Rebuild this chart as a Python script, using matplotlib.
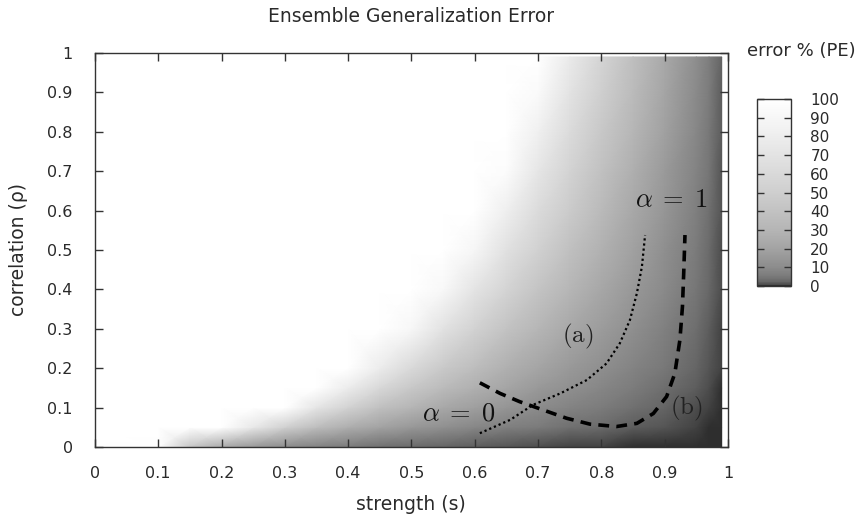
import numpy as np
import matplotlib
matplotlib.use('Agg')
import matplotlib.pyplot as plt
from matplotlib.colors import LinearSegmentedColormap

plt.rcParams['font.family'] = ['DejaVu Sans']
plt.rcParams['mathtext.fontset'] = 'cm'

# error %, one list per strength column,
# values going up the correlation rows below (capped at 100 = white)
strength = [0.0, 0.1, 0.15, 0.2, 0.25, 0.3, 0.35, 0.4, 0.45, 0.5,
            0.55, 0.6, 0.65, 0.7, 0.75, 0.8, 0.85, 0.9, 0.95, 0.97, 0.99]
correlation = [0.0, 0.05, 0.1, 0.15, 0.2, 0.3, 0.4, 0.5, 0.6, 0.7, 0.8, 0.9, 0.99]
error_pct = [
    [100, 100, 100, 100, 100, 100, 100, 100, 100, 100, 100, 100, 100],
    [99, 100, 100, 100, 100, 100, 100, 100, 100, 100, 100, 100, 100],
    [43, 100, 100, 100, 100, 100, 100, 100, 100, 100, 100, 100, 100],
    [24, 100, 100, 100, 100, 100, 100, 100, 100, 100, 100, 100, 100],
    [15, 75, 100, 100, 100, 100, 100, 100, 100, 100, 100, 100, 100],
    [10, 51, 100, 100, 100, 100, 100, 100, 100, 100, 100, 100, 100],
    [7.2, 36, 72, 100, 100, 100, 100, 100, 100, 100, 100, 100, 100],
    [5.3, 26, 53, 79, 100, 100, 100, 100, 100, 100, 100, 100, 100],
    [3.9, 20, 39, 59, 79, 100, 100, 100, 100, 100, 100, 100, 100],
    [3.0, 15, 30, 45, 60, 90, 100, 100, 100, 100, 100, 100, 100],
    [2.3, 12, 23, 35, 46, 69, 92, 100, 100, 100, 100, 100, 100],
    [1.8, 8.9, 18, 27, 36, 53, 71, 89, 100, 100, 100, 100, 100],
    [1.4, 6.8, 14, 21, 27, 41, 55, 68, 82, 96, 100, 100, 100],
    [1.0, 5.2, 10, 16, 21, 31, 42, 52, 62, 73, 83, 94, 100],
    [0.78, 3.9, 7.8, 12, 16, 23, 31, 39, 47, 54, 62, 70, 77],
    [0.56, 2.8, 5.6, 8.4, 11.3, 16.9, 22.5, 28.1, 33.8, 39.4, 45.0, 50.6, 55.7],
    [0.38, 1.9, 3.8, 5.8, 7.7, 11.5, 15.4, 19.2, 23.0, 26.9, 30.7, 34.6, 38.0],
    [0.23, 1.2, 2.3, 3.5, 4.7, 7.0, 9.4, 11.7, 14.1, 16.4, 18.8, 21.1, 23.2],
    [0.11, 0.54, 1.1, 1.6, 2.2, 3.2, 4.3, 5.4, 6.5, 7.6, 8.6, 9.7, 10.7],
    [0.06, 0.3, 0.6, 0.9, 1.3, 1.9, 2.5, 3.1, 3.8, 4.4, 5.0, 5.7, 6.2],
    [0.02, 0.1, 0.2, 0.3, 0.4, 0.6, 0.8, 1.0, 1.2, 1.4, 1.6, 1.8, 2.0],
]

# curve (a), dotted
curve_a_s = [0.608, 0.656, 0.692, 0.735, 0.777, 0.808, 0.829, 0.845, 0.856, 0.864, 0.869]
curve_a_rho = [0.035, 0.069, 0.107, 0.136, 0.170, 0.212, 0.263, 0.322, 0.390, 0.458, 0.538]
# curve (b), dashed
curve_b_s = [0.608, 0.640, 0.671, 0.708, 0.745, 0.782, 0.824, 0.856, 0.882,
             0.903, 0.916, 0.924, 0.928, 0.930, 0.932]
curve_b_rho = [0.163, 0.136, 0.115, 0.094, 0.073, 0.058, 0.052, 0.060, 0.085,
               0.128, 0.187, 0.272, 0.356, 0.441, 0.538]

tick_vals = [0, 0.1, 0.2, 0.3, 0.4, 0.5, 0.6, 0.7, 0.8, 0.9, 1]
tick_labels = ['0', '0.1', '0.2', '0.3', '0.4', '0.5', '0.6', '0.7', '0.8', '0.9', '1']
cb_ticks = [0, 10, 20, 30, 40, 50, 60, 70, 80, 90, 100]

# gnuplot gray palette with gamma: rises fast from dark gray, white at 100
stops = [(0.0, 0.18), (0.005, 0.28), (0.02, 0.40), (0.05, 0.48), (0.1, 0.55),
         (0.2, 0.64), (0.3, 0.71), (0.5, 0.81), (0.7, 0.89), (0.85, 0.95), (1.0, 1.0)]
cmap = LinearSegmentedColormap.from_list('pe_gray', [(v, (g, g, g)) for v, g in stops])

txt = '#2a2a2a'

fig = plt.figure(figsize=(8.63, 5.19), dpi=100)
ax = fig.add_axes([0.110, 0.1387, 0.7336, 0.7592])

S, R = np.meshgrid(strength, correlation)
C = np.array(error_pct, dtype=float).T
mesh = ax.pcolormesh(S, R, C, cmap=cmap, vmin=0, vmax=100, shading='gouraud')

ax.plot(curve_a_s, curve_a_rho, color='black', lw=1.6, linestyle=(0, (1, 1.3)))
ax.plot(curve_b_s, curve_b_rho, color='black', lw=2.6, linestyle=(0, (3, 2)))

ax.text(0.574, 0.085, r'$\alpha\;=\;0$', fontsize=19, ha='center', va='center', color='#111111')
ax.text(0.911, 0.627, r'$\alpha\;=\;1$', fontsize=19, ha='center', va='center', color='#111111')
ax.text(0.763, 0.28, r'$\mathrm{(a)}$', fontsize=18, ha='center', va='center', color='#222222')
ax.text(0.935, 0.098, r'$\mathrm{(b)}$', fontsize=18, ha='center', va='center', color='#222222')

ax.set_xlim(0, 1)
ax.set_ylim(0, 1)
ax.set_xticks(tick_vals)
ax.set_xticklabels(tick_labels)
ax.set_yticks(tick_vals)
ax.set_yticklabels(tick_labels)
ax.tick_params(direction='in', top=True, right=True, length=6, width=1,
               color='#333333', labelsize=11.5, labelcolor=txt)
ax.tick_params(axis='x', pad=14)
ax.tick_params(axis='y', pad=16)
for sp in ax.spines.values():
    sp.set_color('#333333')
    sp.set_linewidth(1)

fig.text(0.476, 1 - 17 / 519, 'Ensemble Generalization Error', ha='center', va='center',
         fontsize=13.5, color=txt)
fig.text(0.476, 1 - 505 / 519, 'strength (s)', ha='center', va='center', fontsize=13.5,
         color=txt)
fig.text(18 / 863, 1 - 250 / 519, 'correlation (\u03c1)', ha='center', va='center',
         rotation=90, fontsize=13.5, color=txt)
fig.text(801 / 863, 1 - 51 / 519, 'error % (PE)', ha='center', va='center', fontsize=13,
         color=txt)

cax = fig.add_axes([0.877, 0.449, 0.0394, 0.360])
cb = fig.colorbar(mesh, cax=cax, ticks=cb_ticks)
cb.outline.set_edgecolor('#333333')
cb.outline.set_linewidth(1)
cax.tick_params(direction='in', left=True, right=True, length=5, width=1,
                color='#333333', pad=14, labelsize=11, labelcolor=txt)

plt.savefig('out.png', dpi=100)
